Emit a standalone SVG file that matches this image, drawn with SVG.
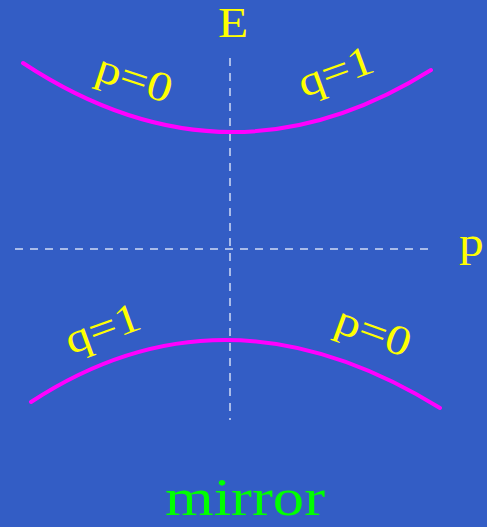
<svg xmlns="http://www.w3.org/2000/svg" width="487" height="527" viewBox="0 0 487 527">
  <style>
    .axis { stroke: #d2dcf5; stroke-width: 1.5; stroke-dasharray: 8 7; fill: none; }
    .curve { stroke: #ff00ff; stroke-width: 4; fill: none; stroke-linecap: round; }
    .lbl { font-family: "Liberation Serif", "Times New Roman", serif; fill: #ffff00; font-size: 42px; }
    .ax { font-family: "Liberation Serif", "Times New Roman", serif; fill: #ffff00; font-size: 43px; }
    .mirror { font-family: "Liberation Serif", "Times New Roman", serif; fill: #00ff00; font-size: 53px; }
  </style>
  <rect x="0" y="0" width="487" height="527" fill="#335dc5"/>
  <g id="connectors">
    <line class="axis" x1="230" y1="58" x2="230" y2="420"/>
    <line class="axis" x1="15" y1="249" x2="435" y2="249"/>
    <path class="curve" d="M23,63 Q227,197.5 431,70"/>
    <path class="curve" d="M31,402 Q224.5,275 440,408"/>
  </g>
  <g id="axis-E">
    <text class="ax" text-anchor="middle" transform="translate(233,37) scale(1.15,1)">E</text>
  </g>
  <g id="axis-p">
    <text class="ax" transform="translate(459,256) scale(1.15,1)">p</text>
  </g>
  <g id="label-top-left">
    <text class="lbl" transform="translate(134,80) rotate(18) scale(-1.18,1)"><tspan x="11.85 -11.85 -32.85" y="12 12 12">q=0</tspan></text>
  </g>
  <g id="label-top-right">
    <text class="lbl" text-anchor="middle" transform="translate(336,73) rotate(-20) scale(1.18,1)" y="12">q=1</text>
  </g>
  <g id="label-bottom-left">
    <text class="lbl" text-anchor="middle" transform="translate(103,330) rotate(-20) scale(1.18,1)" y="12">q=1</text>
  </g>
  <g id="label-bottom-right">
    <text class="lbl" transform="translate(373,333) rotate(20) scale(-1.18,1)"><tspan x="11.85 -11.85 -32.85" y="12 12 12">q=0</tspan></text>
  </g>
  <g id="caption">
    <text class="mirror" x="165" y="515" textLength="160" lengthAdjust="spacingAndGlyphs">mirror</text>
  </g>
</svg>
